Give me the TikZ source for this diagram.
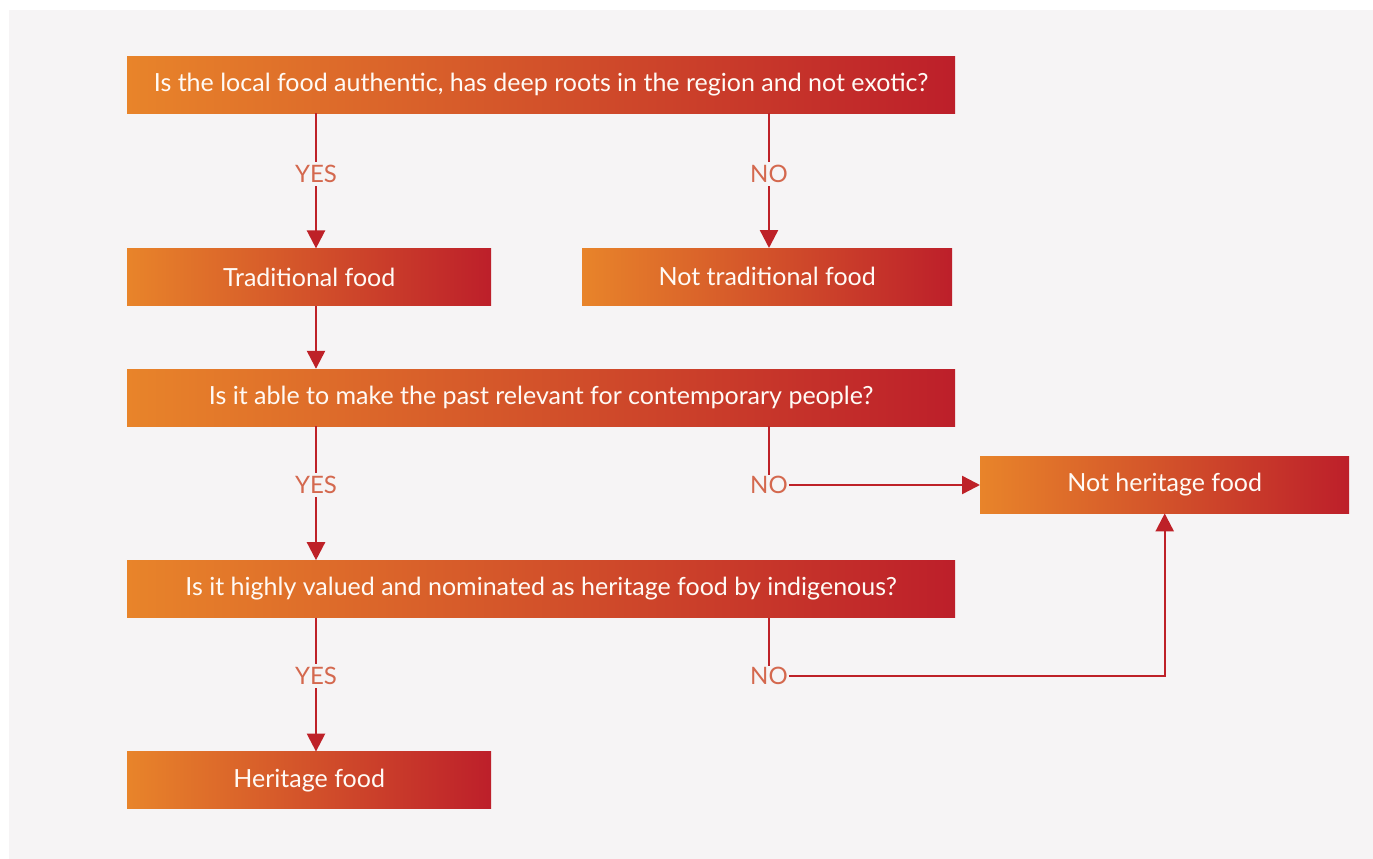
\documentclass[tikz,border=0pt]{standalone}
\usepackage{fontspec}
\setmainfont{Lato}
\usepackage{xcolor}
\usetikzlibrary{arrows.meta, positioning}
\definecolor{panelgray}{HTML}{F6F4F5}
\definecolor{boxorange}{HTML}{E8842A}
\definecolor{boxred}{HTML}{BD1F2A}
\definecolor{linered}{HTML}{BE2128}
\definecolor{answer}{HTML}{D4684E}

\begin{document}
\begin{tikzpicture}[x=1pt, y=-1pt,
        box/.style={left color=boxorange, right color=boxred, minimum height=57pt,
          inner sep=0pt, text=white!96!orange, font=\fontsize{25}{28}\selectfont},
        widebox/.style={box, minimum width=828pt},
        shortbox/.style={box, minimum width=364pt},
        answ/.style={fill=panelgray, text=answer, inner sep=3pt, font=\fontsize{24}{28}\selectfont},
        arr/.style={-{Triangle[width=18pt, length=18pt]}, line width=2.4pt, draw=linered},
        plain/.style={line width=2.4pt, draw=linered}
      ]
      \useasboundingbox (0,0) rectangle (1373,859);
      \fill[panelgray] (9,10) rectangle (1373,859);

      % questions and answers
      \node[widebox, anchor=north west] (q1) at (127,56)
        {Is the local food authentic, has deep roots in the region and not exotic?};
      \node[shortbox, below=135pt of q1.south west, anchor=north west] (trad) {Traditional food};
      \node[box, minimum width=370pt, anchor=north west] (nottrad) at (582,248) {Not traditional food};
      \node[widebox, below=63pt of trad.south west, anchor=north west] (q2)
        {Is it able to make the past relevant for contemporary people?};
      \node[box, minimum width=369pt, anchor=north west] (notherit) at (980,456) {Not heritage food};
      \node[widebox, below=134pt of q2.south west, anchor=north west] (q3)
        {Is it highly valued and nominated as heritage food by indigenous?};
      \node[shortbox, below=134pt of q3.south west, anchor=north west] (herit) {Heritage food};

      % yes / no labels
      \node[answ] (yes1) at (316,174) {YES};
      \node[answ] (no1) at (769,174) {NO};
      \node[answ] (yes2) at (316,485) {YES};
      \node[answ, inner sep=1pt] (no2) at (no1 |- yes2) {NO};
      \node[answ] (yes3) at (316,676) {YES};
      \node[answ, inner sep=1pt] (no3) at (no1 |- yes3) {NO};

      % connectors
      \draw[arr] (yes1 |- q1.south) -- (yes1 |- trad.north);
      \draw[arr] (no1 |- q1.south) -- (no1 |- nottrad.north);
      \draw[arr] (yes1 |- trad.south) -- (yes1 |- q2.north);
      \draw[arr] (yes2 |- q2.south) -- (yes2 |- q3.north);
      \draw[plain] (no2 |- q2.south) -- (no2.north);
      \draw[arr] (no2.east) -- (notherit.west |- no2);
      \draw[arr] (yes3 |- q3.south) -- (yes3 |- herit.north);
      \draw[plain] (no3 |- q3.south) -- (no3.north);
      \draw[arr] (no3.east) -| (notherit.south);
      \node[answ] at (yes1) {YES};
      \node[answ] at (no1) {NO};
      \node[answ] at (yes2) {YES};
      \node[answ] at (yes3) {YES};
    \end{tikzpicture}
\end{document}
